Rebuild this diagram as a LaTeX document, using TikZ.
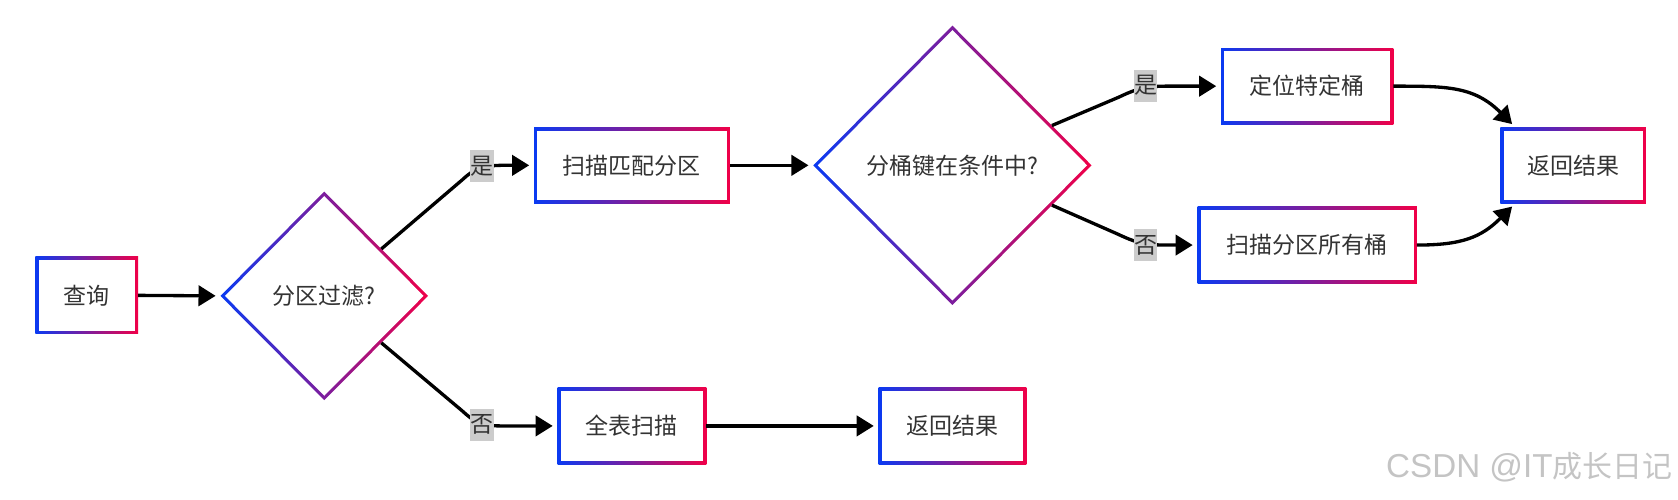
\documentclass[tikz,border=0pt]{standalone}
\usepackage{fontspec}
\newfontfamily\cjk{Noto Sans CJK SC}
\newfontfamily\lat{Liberation Sans}
\usetikzlibrary{shapes.geometric,arrows.meta,calc}
\definecolor{bl}{HTML}{0A3AF2}
\definecolor{rd}{HTML}{F00048}
\definecolor{txt}{HTML}{333333}
\definecolor{lblg}{HTML}{CCCCCC}
\definecolor{wmg}{HTML}{C4C4C4}
\begin{document}
\begin{tikzpicture}[x=1pt,y=-1pt,
  gbox/.style={rectangle, inner sep=0pt, outer sep=0pt, minimum height=72pt,
    left color=bl, right color=rd, text=txt, font=\cjk\fontsize{21.5}{26}\selectfont,
    path picture={\fill[white] ([shift={(3pt,-3pt)}]path picture bounding box.north west) rectangle ([shift={(-3pt,3pt)}]path picture bounding box.south east);}},
  gdia/.style={diamond, inner sep=0pt, outer sep=0pt,
    left color=bl, right color=rd, text=txt, font=\cjk\fontsize{21.5}{26}\selectfont,
    path picture={\fill[white] ([xshift=4.2pt]path picture bounding box.west) -- ([yshift=-4.2pt]path picture bounding box.north) -- ([xshift=-4.2pt]path picture bounding box.east) -- ([yshift=4.2pt]path picture bounding box.south) -- cycle;}},
  lbl/.style={fill=lblg, text=txt, font=\cjk\fontsize{21.5}{26}\selectfont, inner sep=0pt, minimum width=22pt, minimum height=30pt},
  conn/.style={line width=3.1pt, black, -{Triangle[length=16pt,width=19pt]}, shorten >=4.5pt},
]
\useasboundingbox (0,0) rectangle (1568,467.2);

\node[gbox, minimum width=96pt] (q) at (81,276) {查询};
\node[gdia, minimum width=194pt, minimum height=195pt] (d1) at (303,276.5) {分区过滤?};
\node[gbox, minimum width=183pt, minimum height=71pt] (sm) at (590.5,154.5) {扫描匹配分区};
\node[gbox, minimum width=139pt] (qb) at (590.5,398) {全表扫描};
\node[gbox, minimum width=138pt] (r2) at (890,398) {返回结果};
\node[gdia, minimum width=260pt, minimum height=261pt] (d2) at (890,154.5) {分桶键在条件中?};
\node[gbox, minimum width=161pt, minimum height=71pt] (loc) at (1221.5,80.5) {定位特定桶};
\node[gbox, minimum width=205pt] (sall) at (1221.5,229) {扫描分区所有桶};
\node[gbox, minimum width=136pt, minimum height=71pt] (r1) at (1470,154.5) {返回结果};

\draw[conn] (q.east) -- (d1.west);
\draw[conn] ($(d1.east)!0.45!(d1.north)$) -- (432,168) .. controls (444,157) and (450,155) .. (468,154.5) -- (sm.west);
\draw[conn] ($(d1.east)!0.45!(d1.south)$) -- (432,384) .. controls (444,395) and (450,398) .. (468,398) -- (qb.west);
\draw[conn] (sm.east) -- (d2.west);
\draw[conn] (qb.east) -- (r2.west);
\draw[conn] ($(d2.east)!0.285!(d2.north)$) -- (1045,91) .. controls (1060,84) and (1068,80.5) .. (1090,80.5) -- (loc.west);
\draw[conn] ($(d2.east)!0.285!(d2.south)$) -- (1045,219) .. controls (1060,226) and (1068,229) .. (1090,229) -- (sall.west);
\draw[conn, shorten >=0pt] (loc.east) to[out=0,in=135,looseness=1.1] ($(r1.north west)+(11pt,3pt)$);
\draw[conn, shorten >=0pt] (sall.east) to[out=0,in=-135,looseness=1.1] ($(r1.south west)+(11pt,-3pt)$);

\node[lbl] (y1) at (450.5,155) {是};
\node[lbl] (n1) at (450.5,397) {否};
\node[lbl] (y2) at (1070.5,80) {是};
\node[lbl] (n2) at (1070.5,229) {否};

\node[anchor=east, text=wmg, inner sep=0pt] (wm) at (1563,437) {{\lat\fontsize{31}{34}\selectfont CSDN @IT}{\cjk\fontsize{28}{34}\selectfont 成长日记}};
\end{tikzpicture}
\end{document}
